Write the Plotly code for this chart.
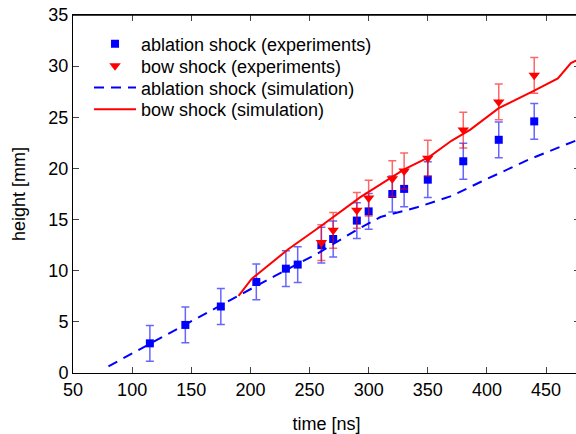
import plotly.graph_objects as go

# ---- data ----
abl_t = [115, 145, 175, 205, 230, 240, 260, 270, 290, 300, 320, 330, 350, 380, 410, 440]
abl_h = [2.9, 4.7, 6.5, 8.9, 10.2, 10.6, 12.5, 13.1, 14.9, 15.8, 17.5, 18.0, 18.9, 20.7, 22.8, 24.6]
abl_err = [1.75] * len(abl_t)

bow_t = [260, 270, 290, 300, 320, 330, 350, 380, 410, 440]
bow_h = [12.75, 13.95, 15.9, 17.1, 19.0, 19.75, 21.0, 23.75, 26.5, 29.1]
bow_err = [1.75] * len(bow_t)

sim_abl_t = [80, 190, 220, 257, 290, 310, 341, 370, 395, 436, 479]
sim_abl_h = [0.65, 7.6, 9.45, 11.7, 14.0, 15.25, 16.2, 17.3, 18.7, 20.9, 22.9]

sim_bow_t = [190, 201, 232, 260, 293, 330, 351, 370, 386, 399, 410, 440, 460, 471, 479]
sim_bow_h = [7.55, 9.2, 12.1, 14.4, 17.2, 19.9, 21.1, 22.7, 23.8, 24.9, 25.9, 27.6, 28.8, 30.3, 30.75]

x_ticks = [50, 100, 150, 200, 250, 300, 350, 400, 450]
y_ticks = [0, 5, 10, 15, 20, 25, 30, 35]
X_RANGE = [50, 478.7]
Y_RANGE = [0, 35]

FONT = "Liberation Sans, Arial, sans-serif"
FS = 18

fig = go.Figure()
fig.add_trace(go.Scatter(
    x=abl_t, y=abl_h, mode="markers", name="ablation shock (experiments)",
    marker=dict(symbol="square", size=8, color="#0000ff"), legend="legend",
    error_y=dict(type="data", array=abl_err, color="rgba(0,0,255,0.6)", thickness=1.5, width=4),
))
fig.add_trace(go.Scatter(
    x=bow_t, y=bow_h, mode="markers", name="bow shock (experiments)",
    marker=dict(symbol="triangle-down", size=10, color="#ff0000"), legend="legend2",
    error_y=dict(type="data", array=bow_err, color="rgba(255,0,0,0.6)", thickness=1.5, width=4),
))
fig.add_trace(go.Scatter(
    x=sim_abl_t, y=sim_abl_h, mode="lines", name="ablation shock (simulation)",
    line=dict(color="#0000ff", width=2, dash="10px,7px"), legend="legend3",
))
fig.add_trace(go.Scatter(
    x=sim_bow_t, y=sim_bow_h, mode="lines", name="bow shock (simulation)",
    line=dict(color="#ff0000", width=2), legend="legend4",
))

LX = 0.0316
def leg(y):
    return dict(x=LX, y=y, xanchor="left", yanchor="middle",
                bgcolor="rgba(0,0,0,0)", font=dict(size=FS), itemwidth=42,
                tracegroupgap=0)

fig.update_layout(
    width=580, height=434,
    margin=dict(l=73, r=0, t=15, b=61, autoexpand=False),
    paper_bgcolor="white", plot_bgcolor="white",
    font=dict(family=FONT, size=FS, color="black"),
    showlegend=True,
    legend=leg(0.919), legend2=leg(0.8575), legend3=leg(0.7963), legend4=leg(0.736),
    xaxis=dict(range=X_RANGE, tickvals=x_ticks, ticks="inside", ticklen=6,
               tickcolor="#444", showline=True, linecolor="black", linewidth=1,
               mirror="ticks", showgrid=False, zeroline=False, automargin=False,
               title=dict(text="time [ns]", font=dict(size=FS), standoff=18),
               tickfont=dict(size=FS)),
    yaxis=dict(range=Y_RANGE, tickvals=y_ticks, ticks="inside", ticklen=6,
               tickcolor="#444", showline=True, linecolor="black", linewidth=1,
               mirror="ticks", showgrid=False, zeroline=False, automargin=False,
               title=dict(text="height [mm]", font=dict(size=FS), standoff=18),
               tickfont=dict(size=FS)),
    shapes=[dict(type="line", xref="paper", yref="paper", x0=0, x1=1, y0=1, y1=1,
                 line=dict(color="black", width=1.5), layer="above")],
)

fig.write_html("out.html", config={"displayModeBar": False},
               post_script="document.body.style.margin='0';document.body.style.overflow='hidden';")
